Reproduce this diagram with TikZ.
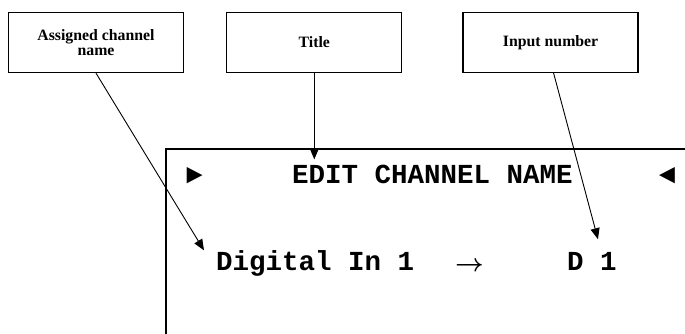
\documentclass[tikz,border=0pt]{standalone}
\usepackage{fontspec}
\setmainfont{Liberation Serif}
\newfontfamily\lcdfont{Liberation Mono}
\usetikzlibrary{arrows.meta, positioning}

\begin{document}
\begin{tikzpicture}[x=1pt, y=-1pt, node distance=42pt,
    box/.style={rectangle, draw, line width=1.3pt, minimum width=175pt, minimum height=60pt, align=center, font=\bfseries\fontsize{15.8}{14.5}\selectfont},
    lcd/.style={inner sep=0pt, anchor=base west, font=\lcdfont\bfseries\fontsize{27.5}{27.5}\selectfont},
    arrow/.style={-{Triangle[length=11pt, width=9pt]}, line width=0.9pt}]
    \useasboundingbox (0,0) rectangle (685,334);
    % callout boxes
    \node[box] (namebox) at (96,42.5) {Assigned channel\\name};
    \node[box, right=of namebox] (titlebox) {Title};
    \node[box, right=60pt of titlebox] (numbox) {Input number};
    % display
    \draw[line width=1.3pt] (166,334) -- (166,149) -- (685,149);
    \node[lcd] (lsel) at (186,183) {►};
    \node[lcd, inner ysep=5pt] (title) at (292,183) {EDIT CHANNEL NAME};
    \node[lcd] (rsel) at (659,183) {◄};
    \node[lcd, inner xsep=12pt] (chname) at (204,270.5) {Digital In 1};
    \node[lcd, font=\boldmath\fontsize{28.5}{28.5}\selectfont] (maps) at (455,271) {$\rightarrow$};
    \node[lcd] (innum) at (567,270.5) {D 1};
    % pointers
    \draw[arrow] (namebox.south) -- (chname.north west);
    \draw[arrow] (titlebox.south) -- (titlebox.south |- title.north);
    \draw[arrow] ([xshift=3pt]numbox.south) -- ([xshift=6pt, yshift=13pt]innum.north);
\end{tikzpicture}
\end{document}
